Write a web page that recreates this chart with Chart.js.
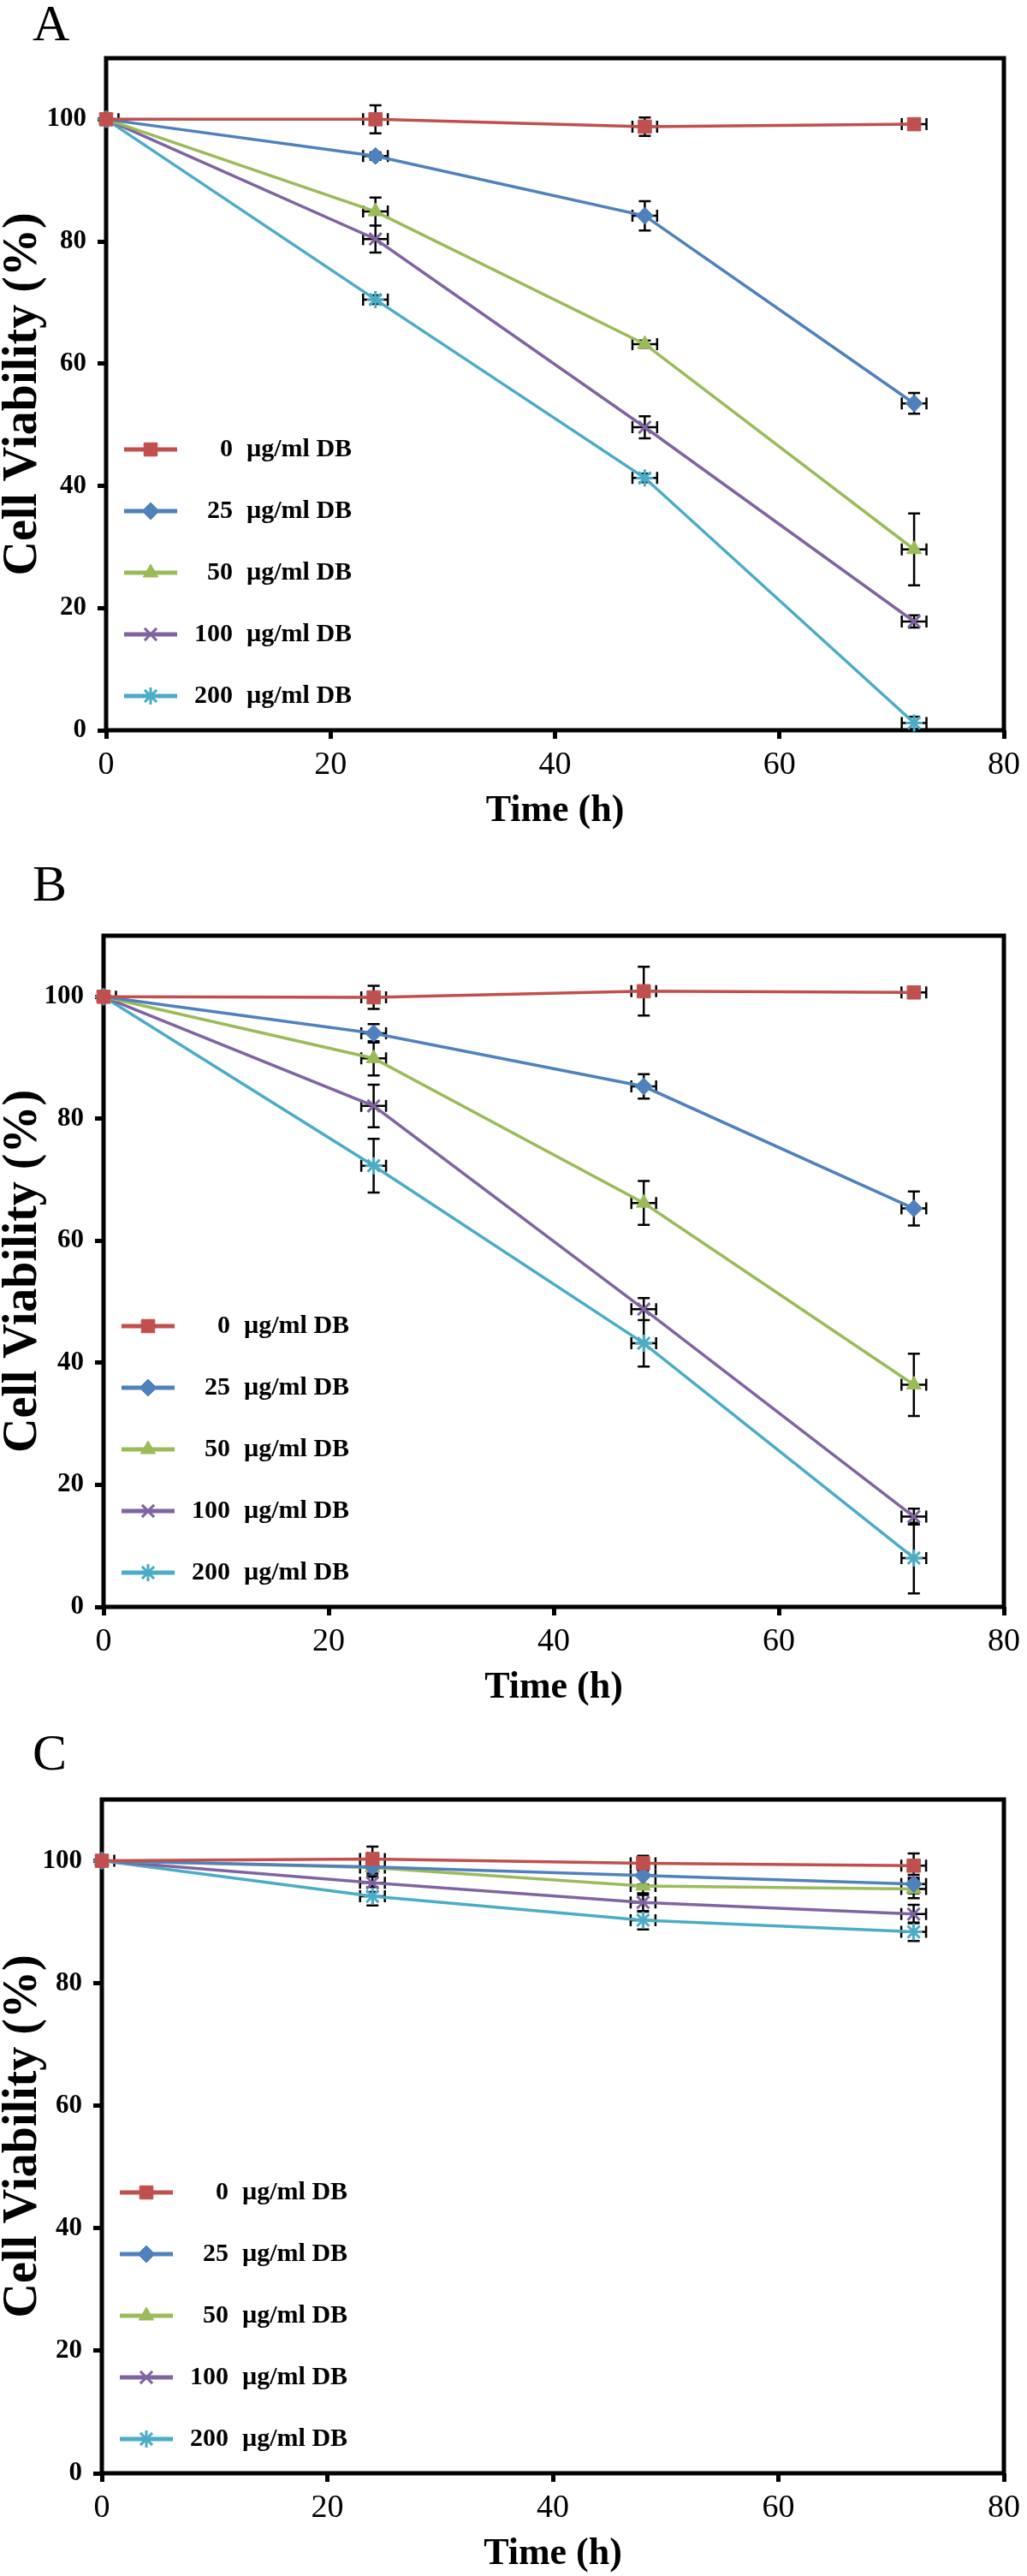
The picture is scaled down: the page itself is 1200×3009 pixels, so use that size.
<!DOCTYPE html>
<html>
<head>
<meta charset="utf-8">
<title>Cell viability vs time</title>
<script src="https://cdn.jsdelivr.net/npm/chart.js@4.4.1/dist/chart.umd.min.js"></script>
<style>
  body { margin: 0; background: #fff; }
  #page { position: relative; width: 1200px; height: 3009px; overflow: hidden; }
  canvas { position: absolute; left: 0; }
  .tag { position: absolute; left: 38px; font: 60px/60px "Liberation Serif", "Times New Roman", serif; color: #000; }
</style>
</head>
<body>
<div id="page">
  <div class="tag" style="top:-3px">A</div>
  <div class="tag" style="top:1002px">B</div>
  <div class="tag" style="top:2017px">C</div>
  <canvas id="chartA" width="1200" height="1000" style="top:0px"></canvas>
  <canvas id="chartB" width="1200" height="1005" style="top:1000px"></canvas>
  <canvas id="chartC" width="1200" height="1004" style="top:2005px"></canvas>
</div>
<script>
// shared axes / series labels
const timesH = [0, 24, 48, 72];
const timeErr = [1.1, 1.1, 1.1, 1.1];
const doses = ['0', '25', '50', '100', '200'];
const doseUnit = 'µg/ml DB';
const xTicks = [0, 20, 40, 60, 80];
const yTicks = [0, 20, 40, 60, 80, 100];

// Panel A - viability (%) per dose, one row per series
const viabilityA = [
    [100, 100.0, 98.8, 99.2],
    [100, 94.0, 84.2, 53.5],
    [100, 84.9, 63.2, 29.6],
    [100, 80.4, 49.6, 17.8],
    [100, 70.5, 41.3, 1.2]
];
const errorA = [
    [0, 2.3, 1.5, 0.8],
    [0, 0.6, 2.4, 1.7],
    [0, 2.3, 0.6, 5.9],
    [0, 2.2, 1.8, 1.0],
    [0, 0.7, 0.7, 1.0]
];

// Panel B
const viabilityB = [
    [100, 99.9, 100.9, 100.7],
    [100, 94.0, 85.3, 65.3],
    [100, 89.9, 66.2, 36.4],
    [100, 82.1, 48.8, 14.8],
    [100, 72.3, 43.2, 8.0]
];
const errorB = [
    [0, 1.9, 4.0, 0.6],
    [0, 1.5, 2.0, 2.8],
    [0, 2.8, 3.6, 5.1],
    [0, 3.5, 1.8, 1.3],
    [0, 4.4, 3.8, 5.8]
];

// Panel C
const viabilityC = [
    [100, 100.3, 99.6, 99.2],
    [100, 99.0, 97.6, 96.2],
    [100, 98.9, 95.9, 95.4],
    [100, 96.4, 93.2, 91.3],
    [100, 94.2, 90.3, 88.4]
];
const errorC = [
    [0, 2.0, 1.2, 2.0],
    [0, 1.5, 1.5, 1.5],
    [0, 1.5, 1.5, 1.5],
    [0, 1.5, 1.5, 1.5],
    [0, 1.5, 1.5, 1.5]
];

// series look (Excel 2007 palette)
const seriesColors = ['#C0504D', '#4F81BD', '#9BBB59', '#8064A2', '#4BACC6'];
const seriesMarkers = ['rect', 'rectRot', 'triangle', 'crossRot', 'star'];
const markerRadius = [11, 10, 10, 10, 10];
const markerBorder = [1, 1, 1, 3, 3];

const serif = '"Liberation Serif", "Times New Roman", serif';
Chart.defaults.color = '#000';
Chart.defaults.font.family = serif;

// black box round the plot area
const frame = {
    id: 'frame',
    beforeDatasetsDraw(chart) {
        const { ctx, chartArea: a } = chart;
        ctx.save();
        ctx.strokeStyle = '#000';
        ctx.lineWidth = 5;
        ctx.strokeRect(a.left, a.top, a.right - a.left, a.bottom - a.top);
        ctx.restore();
    }
};

// vertical + horizontal error bars with caps
const errorBars = {
    id: 'errorBars',
    beforeDatasetsDraw(chart) {
        const { ctx, chartArea: a, scales: { x, y } } = chart;
        const cap = 7;
        const seg = (x1, y1, x2, y2) => { ctx.moveTo(x1, y1); ctx.lineTo(x2, y2); };
        ctx.save();
        ctx.beginPath();
        ctx.rect(a.left + 3, a.top, a.right - a.left, a.bottom - a.top);
        ctx.clip();
        ctx.strokeStyle = '#000';
        ctx.lineWidth = 2.5;
        ctx.beginPath();
        chart.data.datasets.forEach(ds => {
            ds.data.forEach((p, i) => {
                const px = x.getPixelForValue(p.x);
                const py = y.getPixelForValue(p.y);
                const ye = ds.yErr[i], xe = ds.xErr[i];
                if (ye > 0) {
                    const t = y.getPixelForValue(p.y + ye);
                    const b = y.getPixelForValue(p.y - ye);
                    seg(px, t, px, b);
                    seg(px - cap, t, px + cap, t);
                    seg(px - cap, b, px + cap, b);
                }
                if (xe > 0) {
                    const l = x.getPixelForValue(p.x - xe);
                    const r = x.getPixelForValue(p.x + xe);
                    seg(l, py, r, py);
                    seg(l, py - cap, l, py + cap);
                    seg(r, py - cap, r, py + cap);
                }
            });
        });
        ctx.stroke();
        ctx.restore();
    }
};

// legend drawn inside the plot, lower left
const insideLegend = {
    id: 'insideLegend',
    afterDatasetsDraw(chart) {
        const { ctx, chartArea: a } = chart;
        ctx.save();
        chart.data.datasets.forEach((ds, i) => {
            const y = a.bottom - 328 + i * 72;
            const x0 = a.left + 21, x1 = a.left + 83;
            ctx.strokeStyle = ds.borderColor;
            ctx.fillStyle = ds.borderColor;
            ctx.lineWidth = 5;
            ctx.beginPath();
            ctx.moveTo(x0, y);
            ctx.lineTo(x1, y);
            ctx.stroke();
            ctx.lineWidth = ds.pointBorderWidth;
            Chart.helpers.drawPoint(ctx, {
                pointStyle: ds.pointStyle,
                radius: ds.pointRadius,
                borderWidth: ds.pointBorderWidth,
                rotation: 0
            }, (x0 + x1) / 2, y);
            ctx.fillStyle = '#000';
            ctx.font = 'bold 30px ' + serif;
            ctx.textBaseline = 'middle';
            ctx.textAlign = 'right';
            ctx.fillText(doses[i], a.left + 148, y);
            ctx.textAlign = 'left';
            ctx.fillText(doseUnit, a.left + 164, y);
        });
        ctx.restore();
    }
};

function makePanel(id, geo, values, errors) {
    const canvas = document.getElementById(id);
    const xAxisHeight = 117;

    const datasets = doses.map((d, s) => ({
        label: d + '  ' + doseUnit,
        data: timesH.map((t, i) => ({ x: t, y: values[s][i] })),
        yErr: errors[s],
        xErr: timeErr,
        borderColor: seriesColors[s],
        backgroundColor: seriesColors[s],
        pointBackgroundColor: seriesColors[s],
        pointBorderColor: seriesColors[s],
        pointStyle: seriesMarkers[s],
        pointRadius: markerRadius[s],
        pointBorderWidth: markerBorder[s],
        borderWidth: 3.5,
        tension: 0,
        clip: false
    }));

    return new Chart(canvas, {
        type: 'line',
        data: { datasets },
        plugins: [frame, errorBars, insideLegend],
        options: {
            responsive: false,
            animation: false,
            events: [],
            layout: {
                padding: {
                    top: geo.top,
                    left: 0,
                    right: canvas.width - geo.right,
                    bottom: canvas.height - geo.bottom - xAxisHeight
                }
            },
            plugins: {
                legend: { display: false },
                tooltip: { enabled: false }
            },
            scales: {
                x: {
                    type: 'linear',
                    min: 0,
                    max: 80,
                    afterBuildTicks: s => { s.ticks = xTicks.map(v => ({ value: v })); },
                    afterFit: s => { s.height = xAxisHeight; },
                    border: { display: false },
                    grid: {
                        drawOnChartArea: false,
                        drawTicks: true,
                        tickLength: 10,
                        tickWidth: 5,
                        tickColor: '#000'
                    },
                    ticks: {
                        padding: 8,
                        maxRotation: 0,
                        font: { family: '"Liberation Sans Narrow", "Arial Narrow", ' + serif, size: 38 }
                    },
                    title: {
                        display: true,
                        text: 'Time (h)',
                        padding: { top: 0, bottom: 0 },
                        font: { family: serif, size: 44, weight: 'bold', lineHeight: 1 }
                    }
                },
                y: {
                    type: 'linear',
                    min: 0,
                    max: 110,
                    afterBuildTicks: s => { s.ticks = yTicks.map(v => ({ value: v })); },
                    afterFit: s => { s.width = geo.left; },
                    border: { display: false },
                    grid: {
                        drawOnChartArea: false,
                        drawTicks: true,
                        tickLength: 10,
                        tickWidth: 5,
                        tickColor: '#000'
                    },
                    ticks: {
                        padding: 13,
                        font: { family: serif, size: 31, weight: 'bold' }
                    },
                    title: {
                        display: true,
                        text: 'Cell Viability (%)',
                        padding: { top: 0, bottom: 0 },
                        font: { family: serif, size: 56, weight: 'bold', lineHeight: 1 }
                    }
                }
            }
        }
    });
}

// plot boxes inside each canvas
makePanel('chartA', { left: 124, right: 1182, top: 68, bottom: 853 }, viabilityA, errorA);
makePanel('chartB', { left: 121, right: 1180, top: 93, bottom: 877 }, viabilityB, errorB);
makePanel('chartC', { left: 119, right: 1182, top: 97, bottom: 884 }, viabilityC, errorC);
</script>
</body>
</html>
